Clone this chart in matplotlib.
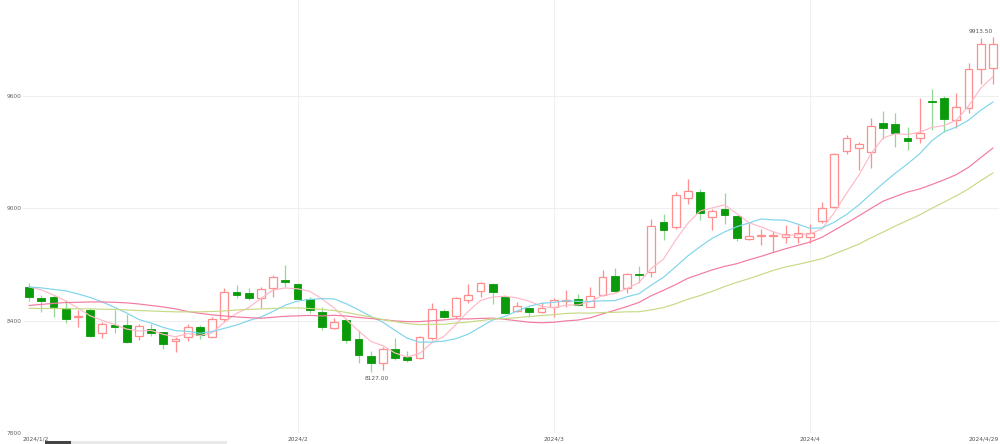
import numpy as np
import pandas as pd
import matplotlib
matplotlib.use("Agg")
import matplotlib.pyplot as plt
from matplotlib.patches import Rectangle

# ---------------- data ----------------
dates = list(pd.bdate_range("2024-01-02", "2024-03-29")) + [
    pd.Timestamp(f"2024-04-{d:02d}") for d in [1, 2, 3, 8, 9, 10, 11, 12, 15, 16, 17, 18, 19, 25, 26, 29]
]

opens = [8582, 8520, 8525, 8466, 8421, 8457, 8333, 8377, 8376, 8318,
         8357, 8338, 8292, 8315, 8368, 8315, 8408, 8552, 8548, 8520,
         8576, 8619, 8598, 8516, 8448, 8360, 8404, 8304, 8212, 8173,
         8251, 8208, 8199, 8306, 8454, 8424, 8513, 8560, 8594, 8528,
         8452, 8466, 8448, 8475, 8507, 8514, 8475, 8537, 8641, 8575,
         8650, 8662, 8929, 8899, 9054, 9089, 8955, 8997, 8959, 8835,
         8854, 8852, 8845, 8848, 8847, 8932, 9009, 9308, 9321, 9302,
         9457, 9449, 9374, 9374, 9571, 9588, 9472, 9534, 9742, 9748]
highs = [8600, 8537, 8539, 8511, 8457, 8470, 8395, 8457, 8436, 8382,
         8382, 8341, 8315, 8382, 8376, 8418, 8573, 8591, 8573, 8578,
         8644, 8698, 8603, 8528, 8472, 8413, 8413, 8350, 8240, 8258,
         8306, 8238, 8318, 8493, 8460, 8528, 8598, 8608, 8600, 8535,
         8498, 8472, 8502, 8520, 8564, 8541, 8582, 8671, 8680, 8652,
         8692, 8942, 8968, 9089, 9157, 9102, 8995, 9084, 8965, 8923,
         8888, 8881, 8911, 8909, 8916, 9036, 9294, 9392, 9356, 9481,
         9520, 9508, 9436, 9588, 9636, 9600, 9614, 9775, 9911, 9913.5]
lows = [8507, 8448, 8418, 8389, 8368, 8315, 8309, 8336, 8281, 8297,
        8318, 8247, 8235, 8292, 8304, 8311, 8395, 8520, 8511, 8466,
        8528, 8582, 8514, 8440, 8349, 8354, 8283, 8173, 8127, 8137,
        8190, 8181, 8194, 8297, 8415, 8413, 8493, 8528, 8488, 8436,
        8445, 8421, 8440, 8421, 8475, 8479, 8472, 8532, 8555, 8550,
        8600, 8632, 8831, 8890, 9022, 8938, 8884, 8916, 8827, 8831,
        8804, 8768, 8813, 8815, 8817, 8923, 9000, 9290, 9205, 9214,
        9369, 9326, 9312, 9351, 9418, 9409, 9428, 9509, 9662, 9662]
closes = [8525, 8507, 8472, 8408, 8425, 8318, 8382, 8365, 8285, 8373,
          8336, 8274, 8302, 8368, 8324, 8408, 8555, 8539, 8523, 8568,
          8635, 8607, 8518, 8457, 8366, 8392, 8297, 8217, 8176, 8247,
          8199, 8190, 8311, 8461, 8418, 8523, 8537, 8600, 8552, 8440,
          8479, 8448, 8466, 8511, 8511, 8484, 8534, 8635, 8560, 8647,
          8646, 8906, 8884, 9071, 9094, 8974, 8988, 8965, 8840, 8852,
          8858, 8858, 8863, 8866, 8866, 9002, 9290, 9377, 9344, 9440,
          9428, 9401, 9360, 9404, 9568, 9476, 9543, 9742, 9876, 9876]

# moving-average values shown before the window fills
ma5_head = [8580, 8564, 8537, 8505]
ma10_head = [8580, 8575, 8567, 8559, 8543, 8524, 8500, 8471, 8441]
ma20_head = [8481, 8487, 8492, 8497, 8498, 8500, 8500, 8498, 8495, 8489,
             8481, 8473, 8463, 8449, 8439, 8431, 8425, 8420, 8416]
ma30_head = [8466, 8465, 8465, 8464, 8463, 8463, 8461, 8460, 8457, 8454,
             8452, 8449, 8447, 8447, 8447, 8449, 8452, 8457, 8460, 8463,
             8465, 8468, 8468, 8465, 8460, 8454, 8444, 8431, 8420]

y_ticks = [7800, 8400, 9000, 9600]

# ---------------- drawing ----------------
def moving_average(n, head):
    s = pd.Series(closes, dtype=float).rolling(n).mean().to_numpy()
    s[:len(head)] = head
    return s

o = np.array(opens, float)
h = np.array(highs, float)
l = np.array(lows, float)
c = np.array(closes, float)
x = np.arange(len(dates))
up = c >= o

fig = plt.figure(figsize=(10, 4.44), dpi=100)
ax = fig.add_axes([0.023, 11 / 444, 0.976, 433 / 444])
ax.set_xlim(-0.5, len(dates) - 0.5)
ax.set_ylim(7800, 10112.6)

# grid
for t in y_ticks:
    ax.axhline(t, color="#efefef", lw=0.8, zorder=0)

months = [d.month for d in dates]
tick_idx = [0] + [i for i in range(1, len(dates)) if months[i] != months[i - 1]] + [len(dates) - 1]
for i in tick_idx[1:-1]:
    ax.axvline(i, color="#f0f0f0", lw=0.8, zorder=0)

up_col = "#ff8e8e"
dn_body = "#0a9a0a"
dn_wick = "#92d992"
w = 0.64

top = np.maximum(o, c)
bot = np.minimum(o, c)
ax.vlines(x[up], top[up], h[up], color=up_col, lw=0.9, zorder=2)
ax.vlines(x[up], l[up], bot[up], color=up_col, lw=0.9, zorder=2)
ax.vlines(x[~up], l[~up], h[~up], color=dn_wick, lw=0.9, zorder=2)
ax.bar(x[up], (top - bot)[up], bottom=bot[up], width=w, facecolor="none",
       edgecolor=up_col, linewidth=0.9, zorder=2.5)
ax.bar(x[~up], np.maximum((top - bot)[~up], 3), bottom=bot[~up], width=w,
       facecolor=dn_body, edgecolor=dn_body, linewidth=0.6, zorder=2.5)

ma_styles = [(5, ma5_head, "#ffb9c6"), (10, ma10_head, "#7fd5ec"),
             (20, ma20_head, "#f37aa0"), (30, ma30_head, "#c6da86")]
for n, head, col in ma_styles:
    ax.plot(x, moving_average(n, head), color=col, lw=0.85, zorder=3,
            solid_joinstyle="round")

# min / max labels
imin = int(np.argmin(l))
imax = int(np.argmax(h))
ax.text(imin + 0.5, l[imin] - 25, f"{l[imin]:.2f}", ha="center", va="top",
        fontsize=4.2, color="#555555", zorder=4)
ax.text(imax, h[imax] + 15, f"{h[imax]:.2f}", ha="right", va="bottom",
        fontsize=4.2, color="#555555", zorder=4)

# axes cosmetics
for sp in ax.spines.values():
    sp.set_visible(False)
ax.set_yticks(y_ticks)
ax.set_yticklabels([str(t) for t in y_ticks], fontsize=4.2, color="#666666")
ax.tick_params(axis="y", length=0, pad=1)
ax.set_xticks([])
for k, i in enumerate(tick_idx):
    d = dates[i]
    if k == 0:
        lab, xx, ha = f"{d.year}/{d.month}/{d.day}", -0.5, "left"
    elif k == len(tick_idx) - 1:
        lab, xx, ha = f"{d.year}/{d.month}/{d.day}", len(dates) - 0.5, "right"
    else:
        lab, xx, ha = f"{d.year}/{d.month}", i, "center"
    ax.annotate(lab, (xx, 7800), xytext=(0, -2.2), textcoords="offset points",
                ha=ha, va="top", fontsize=4.2, color="#555555",
                annotation_clip=False)

# data-zoom slider stub at the bottom
fig.patches.append(Rectangle((71 / 1000, 0), 156 / 1000, 3 / 444, transform=fig.transFigure,
                             facecolor="#e9e9e9", edgecolor="none"))
fig.patches.append(Rectangle((45 / 1000, 0), 26 / 1000, 3 / 444, transform=fig.transFigure,
                             facecolor="#444444", edgecolor="none"))

fig.savefig("out.png", dpi=100, facecolor="white")
